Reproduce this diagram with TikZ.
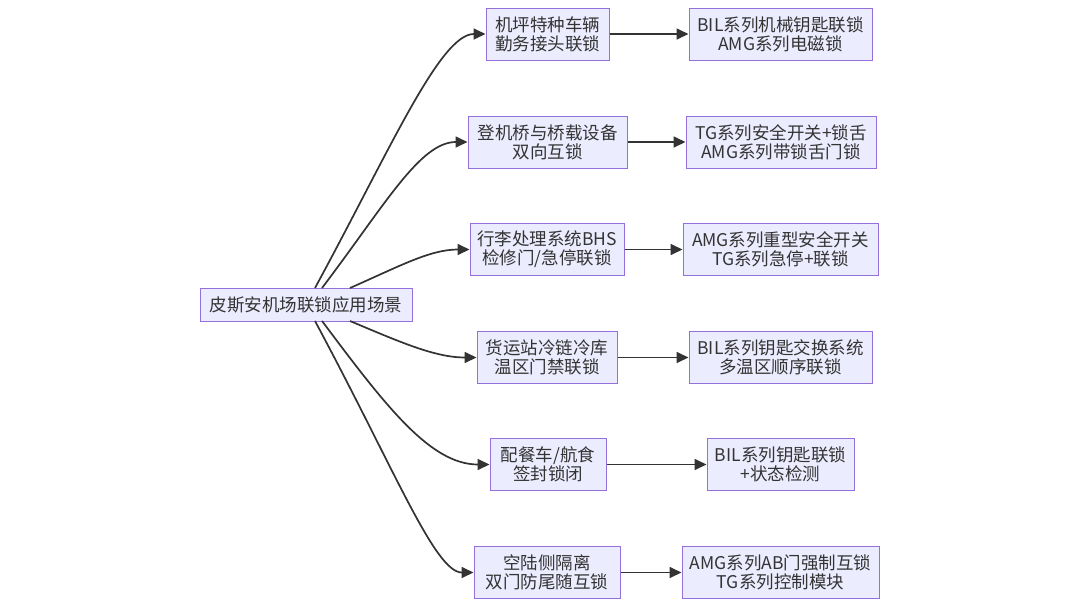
\documentclass[tikz,border=0pt]{standalone}
\usepackage{fontspec}
\setmainfont{Noto Sans CJK SC}
\usetikzlibrary{arrows.meta}
\definecolor{boxfill}{HTML}{ECECFF}
\definecolor{boxline}{HTML}{9370DB}
\definecolor{ink}{HTML}{333333}
\begin{document}
\begin{tikzpicture}[x=1pt,y=-1pt,
  box/.style={draw=boxline,fill=boxfill,line width=1pt,inner sep=0pt,align=center,
    text=ink,font=\fontsize{17.5}{19}\selectfont,minimum height=52pt},
  link/.style={draw=ink,line width=1.7pt,-{Triangle[length=12pt,width=11pt]}}]
\useasboundingbox (0,0) rectangle (1080,608);
\fill[white] (0,0) rectangle (1080,608);
\node[box,minimum width=212pt,minimum height=33pt] (root) at (306,304.5) {皮斯安机场联锁应用场景};
\node[box,minimum width=123pt] (m1) at (547.5,34) {机坪特种车辆\\勤务接头联锁};
\node[box,minimum width=159pt] (m2) at (547.5,142) {登机桥与桥载设备\\双向互锁};
\node[box,minimum width=154pt] (m3) at (547,249.5) {行李处理系统BHS\\检修门/急停联锁};
\node[box,minimum width=140pt] (m4) at (547,357.5) {货运站冷链冷库\\温区门禁联锁};
\node[box,minimum width=116pt] (m5) at (548,464.5) {配餐车/航食\\签封锁闭};
\node[box,minimum width=146pt] (m6) at (547,572.5) {空陆侧隔离\\双门防尾随互锁};
\node[box,minimum width=183pt] (r1) at (780.5,34) {BIL系列机械钥匙联锁\\AMG系列电磁锁};
\node[box,minimum width=190pt] (r2) at (781,142) {TG系列安全开关+锁舌\\AMG系列带锁舌门锁};
\node[box,minimum width=195pt] (r3) at (780.5,249.5) {AMG系列重型安全开关\\TG系列急停+联锁};
\node[box,minimum width=183pt] (r4) at (780.5,357.5) {BIL系列钥匙交换系统\\多温区顺序联锁};
\node[box,minimum width=147pt] (r5) at (780.5,464.5) {BIL系列钥匙联锁\\+状态检测};
\node[box,minimum width=197pt] (r6) at (780.5,572.5) {AMG系列AB门强制互锁\\TG系列控制模块};
\coordinate (s1) at (315,288); \coordinate (s2) at (322,288); \coordinate (s3) at (350,288);
\coordinate (s4) at (350,321); \coordinate (s5) at (322,321); \coordinate (s6) at (315,321);
\draw[link] (s1) .. controls (390,150) and (440,34) .. (m1.west);
\draw[link] (s2) .. controls (385,205) and (420,142) .. (m2.west);
\draw[link] (s3) .. controls (400,266) and (430,249.5) .. (m3.west);
\draw[link] (s4) .. controls (400,342) and (435,357.5) .. (m4.west);
\draw[link] (s5) .. controls (385,405) and (430,464.5) .. (m5.west);
\draw[link] (s6) .. controls (395,470) and (435,572.5) .. (m6.west);
\foreach \i in {1,...,6} {\draw[link] (m\i.east) -- (r\i.west);}
\end{tikzpicture}
\end{document}
